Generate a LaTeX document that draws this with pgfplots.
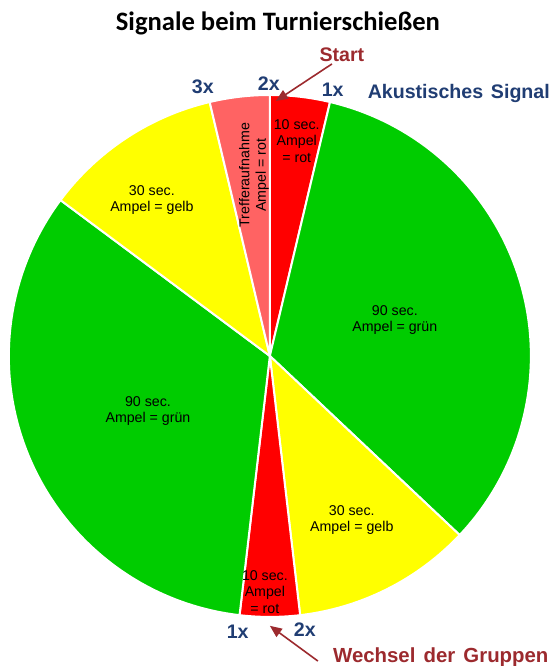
\documentclass[border=0pt]{standalone}
\usepackage{pgfplots}
\pgfplotsset{compat=1.18}
\usepackage{pgfplotstable}
\usepackage{fontspec}
\setmainfont{Liberation Sans}
\newfontfamily\calibri{Carlito}
\usetikzlibrary{arrows.meta}
\definecolor{sigred}{HTML}{FF0000}
\definecolor{siggreen}{HTML}{00CC00}
\definecolor{sigyellow}{HTML}{FFFF00}
\definecolor{siglight}{HTML}{FF6363}
\definecolor{darkred}{HTML}{9C2A2E}
\definecolor{darkblue}{HTML}{203D73}

% slices clockwise from 12 o'clock
\pgfplotstableread{
value color
10 sigred
90 siggreen
30 sigyellow
10 sigred
90 siggreen
30 sigyellow
10 siglight
}\slices

\def\R{130.5pt}
\gdef\tot{0}
\pgfplotstableforeachcolumnelement{value}\of\slices\as\v{%
  \pgfmathparse{\tot+\v}\xdef\tot{\pgfmathresult}}
\gdef\ang{90}
\pgfplotstableforeachcolumnelement{value}\of\slices\as\v{%
  \expandafter\xdef\csname sa\pgfplotstablerow\endcsname{\ang}%
  \pgfmathparse{\ang-(360/\tot)*\v}\xdef\ang{\pgfmathresult}%
  \expandafter\xdef\csname se\pgfplotstablerow\endcsname{\ang}}
\pgfplotstablegetrowsof{\slices}
\pgfmathtruncatemacro\N{\pgfplotsretval-1}

\begin{document}
\begin{tikzpicture}
\begin{axis}[x=130.5pt, y=130.5pt,
  xmin=-1.034, xmax=1.088, ymin=-1.188, ymax=1.364,
  hide axis, clip=false]
\pgfplotsinvokeforeach{0,...,\N}{%
  \pgfplotstablegetelem{#1}{color}\of\slices
  \let\c\pgfplotsretval
  \edef\tmp{\noexpand\fill[fill=\c, draw=white, line width=1pt]
    (axis cs:0,0) -- +(\csname sa#1\endcsname:\R)
    arc[start angle=\csname sa#1\endcsname, end angle=\csname se#1\endcsname, radius=\R] -- cycle;}%
  \tmp
}
\coordinate (BL) at (axis cs:-1.034,-1.188);
\coordinate (TR) at (axis cs:1.088,1.364);

% slice labels
\begin{scope}[every node/.style={align=center, font=\fontsize{7.1}{8.3}\selectfont, inner sep=0pt}]
\node at (axis cs:0.103,0.824) {10 sec.\\Ampel\\= rot};
\node[rotate=90] at (axis cs:-0.061,0.693) {Trefferaufnahme\\Ampel = rot};
\node at (axis cs:-0.452,0.598) {30 sec.\\Ampel = gelb};
\node at (axis cs:0.479,0.138) {90 sec.\\Ampel = grün};
\node at (axis cs:-0.467,-0.211) {90 sec.\\Ampel = grün};
\node at (axis cs:0.314,-0.628) {30 sec.\\Ampel = gelb};
\node at (axis cs:-0.019,-0.904) {10 sec.\\Ampel\\= rot};
\end{scope}

% title
\node[font=\calibri\bfseries\fontsize{13.3}{15}\selectfont, inner sep=0pt] at (axis cs:0.031,1.276) {Signale beim Turnierschießen};

% annotations
\begin{scope}[every node/.style={font=\bfseries\fontsize{9.8}{11}\selectfont, inner sep=0pt}]
\node[text=darkred] at (axis cs:0.276,1.153) {Start};
\node[text=darkblue] at (axis cs:-0.257,1.031) {3x};
\node[text=darkblue] at (axis cs:-0.004,1.042) {2x};
\node[text=darkblue] at (axis cs:0.241,1.019) {1x};
\node[text=darkblue] at (axis cs:0.724,1.004) {Akustisches\hspace{0.12em} Signal};
\node[text=darkblue] at (axis cs:-0.123,-1.057) {1x};
\node[text=darkblue] at (axis cs:0.134,-1.050) {2x};
\node[text=darkred, font=\bfseries\fontsize{10.2}{11}\selectfont] at (axis cs:0.655,-1.153) {Wechsel\hspace{0.12em} der\hspace{0.12em} Gruppen};
\end{scope}
\draw[darkred, line width=0.8pt, -{Triangle[length=6pt, width=5pt]}]
  (axis cs:0.238,1.119) -- (axis cs:0.023,0.977);
\draw[darkred, line width=0.8pt, -{Triangle[length=6pt, width=5pt]}]
  (axis cs:0.184,-1.169) -- (axis cs:0.0,-1.034);
\end{axis}
\pgfresetboundingbox
\useasboundingbox (BL) rectangle (TR);
\end{tikzpicture}
\end{document}
